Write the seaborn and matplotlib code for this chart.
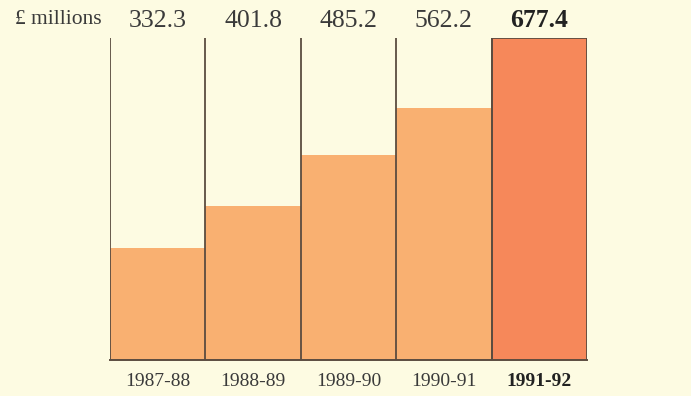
import matplotlib
matplotlib.use("Agg")
import matplotlib.pyplot as plt
import matplotlib.transforms as mtransforms
import numpy as np
import pandas as pd
import seaborn as sns

# Annual totals, £ millions
years = ["1987-88", "1988-89", "1989-90", "1990-91", "1991-92"]
values = [332.3, 401.8, 485.2, 562.2, 677.4]
value_labels = ["332.3", "401.8", "485.2", "562.2", "677.4"]
unit_label = "£ millions"

bg = "#fdfbe2"
bar_color = "#f9b071"
highlight_color = "#f6885a"
line_color = "#5b4c40"
text_color = "#3a3a3a"
serif = ["Liberation Serif", "DejaVu Serif"]

sns.set_theme(style="white")
plt.rcParams["font.family"] = serif

df = pd.DataFrame({"year": years, "value": values})
palette = [bar_color] * (len(years) - 1) + [highlight_color]

fig = plt.figure(figsize=(6.91, 3.96), dpi=100, facecolor=bg)
ax = fig.add_axes([0.1592, 0.0909, 0.6903, 0.8131])
ax.set_facecolor(bg)

sns.barplot(data=df, x="year", y="value", hue="year", palette=palette,
            legend=False, width=1.0, linewidth=0, saturation=1, ax=ax)

# outline only the latest year's bar
last = ax.patches[-1]
last.set_edgecolor(line_color)
last.set_linewidth(1.3)

ax.set_xlim(-0.5, len(years) - 0.5)
ax.set_ylim(148, max(values))

# full-height dividers between the years
ax.vlines(np.arange(len(years)) - 0.5, 148, max(values),
          color=line_color, linewidth=1.3, zorder=3)

for s in ["top", "left", "right"]:
    ax.spines[s].set_visible(False)
ax.spines["bottom"].set_color(line_color)
ax.spines["bottom"].set_linewidth(1.4)

ax.set_yticks([])
ax.set_xlabel("")
ax.set_ylabel("")
ax.tick_params(axis="x", length=0, pad=9, labelsize=14, labelcolor=text_color)
for lbl in ax.get_xticklabels():
    if lbl.get_text() == years[-1]:
        lbl.set_fontweight("bold")
        lbl.set_color("#222222")

# values above each column
trans = mtransforms.blended_transform_factory(ax.transData, ax.transAxes)
for i, lab in enumerate(value_labels):
    is_last = i == len(value_labels) - 1
    ax.text(i, 1.054, lab, transform=trans, ha="center", va="center",
            fontsize=18.5, color="#222222" if is_last else text_color,
            fontweight="bold" if is_last else "normal")

fig.text(58 / 691, 1 - 20 / 396, unit_label, ha="center", va="center",
         fontsize=15.5, color=text_color)

fig.savefig("out.png", dpi=100, facecolor=bg)
